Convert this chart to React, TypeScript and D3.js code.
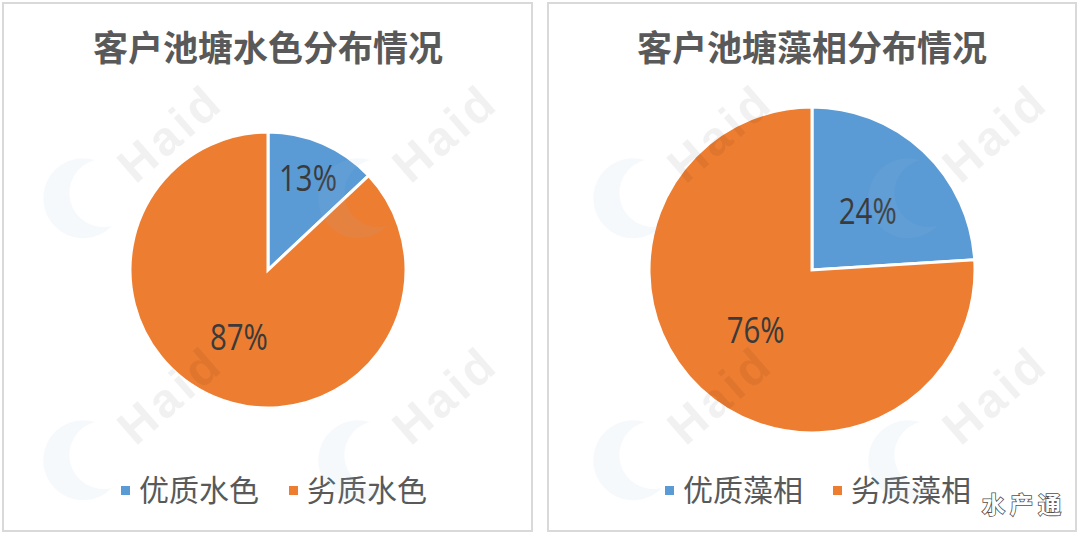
import { arc, pie, PieArcDatum } from "d3";

const waterTitle = "客户池塘水色分布情况";
const waterCategories = ["优质水色", "劣质水色"];
const waterValues = [13, 87];

const algaeTitle = "客户池塘藻相分布情况";
const algaeCategories = ["优质藻相", "劣质藻相"];
const algaeValues = [24, 76];

const sliceColors = ["#5B9BD5", "#ED7D31"];

const width = 1080;
const height = 535;
const cjk = "'Noto Sans CJK SC', 'Noto Sans', sans-serif";

type PanelProps = {
  x: number;
  w: number;
  cx: number;
  radius: number;
  title: string;
  categories: string[];
  values: number[];
  labelRatios: number[];
};

function PiePanel({ x, w, cx, radius, title, categories, values, labelRatios }: PanelProps) {
  const cy = 270;
  const slices = pie<number>().sort(null).value((d) => d)(values);
  const sliceArc = arc<PieArcDatum<number>>().innerRadius(0).outerRadius(radius);
  const labelSize = 36;

  return (
    <g>
      <rect x={x} y={3} width={w} height={528} fill="#ffffff" stroke="#d9d9d9" strokeWidth="2" />

      <text
        x={cx}
        y={61}
        textAnchor="middle"
        fontFamily={cjk}
        fontSize="35"
        fontWeight="700"
        fill="#595959"
      >
        {title}
      </text>

      <g transform={`translate(${cx},${cy})`}>
        {slices.map((s, i) => (
          <path key={i} d={sliceArc(s) ?? ""} fill={sliceColors[i]} stroke="#ffffff" strokeWidth="3" strokeLinejoin="miter" />
        ))}
        {slices.map((s, i) => {
          const r = radius * labelRatios[i];
          const [lx, ly] = arc<PieArcDatum<number>>().innerRadius(r).outerRadius(r).centroid(s);
          return (
            <text
              key={i}
              x={lx}
              y={ly + labelSize * 0.37}
              textAnchor="middle"
              fontFamily="'Open Sans', 'Noto Sans', sans-serif"
              fontWeight="400"
              fontSize={labelSize}
              textLength={58}
              lengthAdjust="spacingAndGlyphs"
              fill="#3a3a3a"
            >
              {`${s.data}%`}
            </text>
          );
        })}
      </g>

      {categories.map((c, i) => {
        const lx = cx - 147 + i * 168;
        return (
          <g key={c}>
            <rect x={lx} y={486} width={9} height={9} fill={sliceColors[i]} />
            <text x={lx + 18} y={501} fontFamily={cjk} fontSize="30" fill="#595959">
              {c}
            </text>
          </g>
        );
      })}
    </g>
  );
}

function Watermarks() {
  const cols = [0, 275, 550, 825];
  const rows = [0, 262];
  return (
    <g pointerEvents="none">
      {rows.map((ry) =>
        cols.map((rx) => (
          <g key={`${rx}-${ry}`} transform={`translate(${rx},${ry})`}>
            <path
              d="M 95 160 A 40 40 0 1 0 112 226 A 32 32 0 1 1 95 160 Z"
              fill="#9db8e0"
              opacity="0.09"
            />
            <text
              x={170}
              y={133}
              transform="rotate(-41 170 133)"
              textAnchor="middle"
              dominantBaseline="central"
              fontFamily="'Liberation Sans', Arial, sans-serif"
              fontWeight="700"
              fontSize="48"
              letterSpacing="4"
              fill="#000000"
              opacity="0.05"
            >
              Haid
            </text>
          </g>
        ))
      )}
    </g>
  );
}

export default function App() {
  return (
    <svg
      width={width}
      height={height}
      viewBox={`0 0 ${width} ${height}`}
      style={{ position: "absolute", left: 0, top: 0, background: "#ffffff" }}
    >
      <rect width={width} height={height} fill="#ffffff" />
      <PiePanel
        x={3}
        w={529}
        cx={268}
        radius={138}
        title={waterTitle}
        categories={waterCategories}
        values={waterValues}
        labelRatios={[0.73, 0.53]}
      />
      <PiePanel
        x={548}
        w={528}
        cx={812}
        radius={163}
        title={algaeTitle}
        categories={algaeCategories}
        values={algaeValues}
        labelRatios={[0.5, 0.505]}
      />
      <Watermarks />
      <text
        x={982}
        y={513}
        fontFamily={cjk}
        fontWeight="700"
        fontSize="23"
        letterSpacing="5"
        fill="#ffffff"
        stroke="#505050"
        strokeWidth="1.6"
        paintOrder="stroke"
      >
        水产通
      </text>
    </svg>
  );
}
